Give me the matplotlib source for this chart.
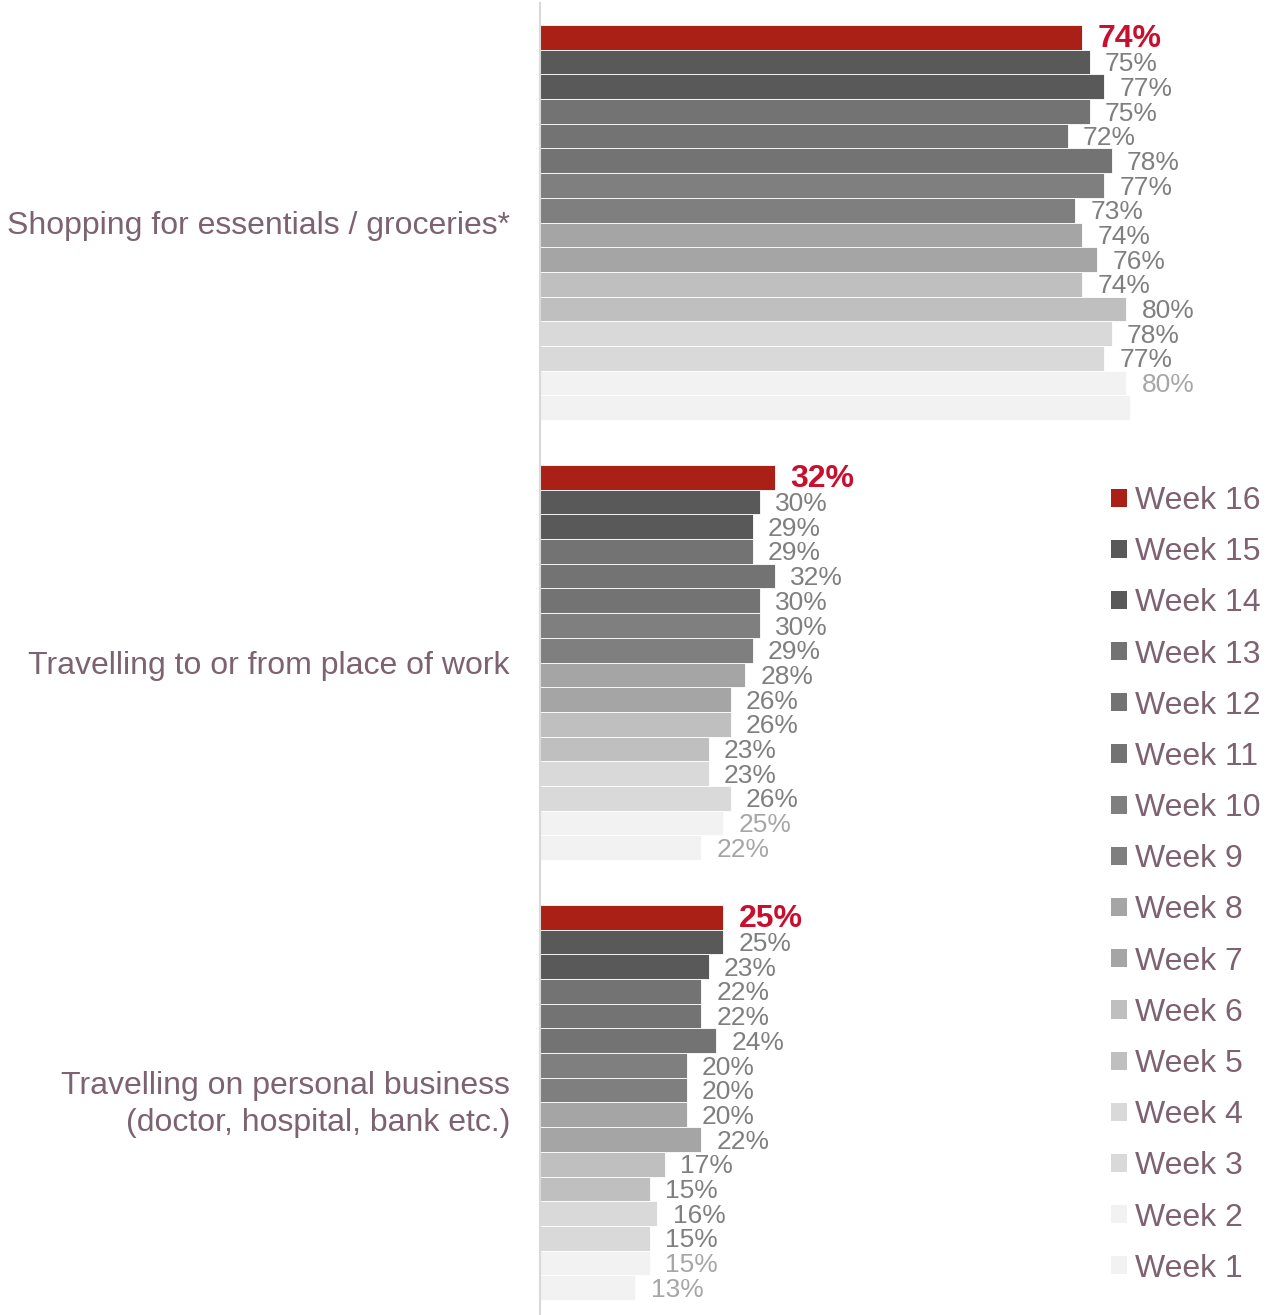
import matplotlib

matplotlib.use("Agg")
import matplotlib.pyplot as plt
from matplotlib.patches import Patch
import numpy as np

plt.rcParams["font.family"] = ["Liberation Sans", "DejaVu Sans"]

# donnees (semaine 16 en haut, semaine 1 en bas)
categories = [
    "Shopping for essentials / groceries*",
    "Travelling to or from place of work",
    "Travelling on personal business\n(doctor, hospital, bank etc.)",
]
weeks = [f"Week {w}" for w in range(16, 0, -1)]
shopping = [74, 75, 77, 75, 72, 78, 77, 73, 74, 76, 74, 80, 78, 77, 80, 80.5]
work = [32, 30, 29, 29, 32, 30, 30, 29, 28, 26, 26, 23, 23, 26, 25, 22]
personal = [25, 25, 23, 22, 22, 24, 20, 20, 20, 22, 17, 15, 16, 15, 15, 13]
# pas d'etiquette sur la barre Week 1 des courses dans l'original
unlabeled = [(0, "Week 1")]

week_colors = ["#AB2016", "#595959", "#595959", "#737373", "#737373", "#737373",
               "#7F7F7F", "#7F7F7F", "#A5A5A5", "#A5A5A5", "#BFBFBF", "#BFBFBF",
               "#D9D9D9", "#D9D9D9", "#F2F2F2", "#F2F2F2"]
text_col = "#7D6271"


def main():
    series = [shopping, work, personal]
    n = len(weeks)
    span = 0.898
    bh = span / n

    fig = plt.figure(figsize=(12.75, 13.15), dpi=100)
    ax = fig.add_axes([540 / 1275, 0, 733 / 1275, 1312 / 1315])

    for c, vals in enumerate(series):
        for i, v in enumerate(vals):
            y = c - span / 2 + bh * (i + 0.5)
            ax.barh(y, v, height=bh, color=week_colors[i],
                    edgecolor="white", linewidth=0.6)
            if (c, weeks[i]) in unlabeled:
                continue
            if i == 0:
                kw = dict(color="#C8102E", fontsize=23, fontweight="bold")
            elif i >= n - 2:
                kw = dict(color="#A6A6A6", fontsize=19)
            else:
                kw = dict(color="#7F7F7F", fontsize=19)
            ax.annotate(f"{v:.0f}%", (v, y), xytext=(11, -1.5),
                        textcoords="offset points", va="center", ha="left",
                        **kw)

    # libelles des categories (a gauche de l'axe)
    for c, name in enumerate(categories):
        dy = 3.5 if "\n" in name else 0
        ax.annotate(name, (0, c), xycoords=("axes fraction", "data"),
                    xytext=(-21.6, dy), textcoords="offset points",
                    ha="right", va="center_baseline", fontsize=23,
                    color=text_col, linespacing=1.3, annotation_clip=False)

    ax.set_xlim(0, 100)
    ax.set_ylim(2.483, -0.499)
    ax.set_yticks([])
    ax.set_xticks([])
    for s in ["top", "right", "bottom"]:
        ax.spines[s].set_visible(False)
    ax.spines["left"].set_color("#D9D9D9")
    ax.spines["left"].set_linewidth(1.5)

    handles = [Patch(facecolor=col, edgecolor="none") for col in week_colors]
    fig.legend(handles, weeks, loc="upper left",
               bbox_to_anchor=(1111 / 1275, 1 - 486 / 1315),
               frameon=False, fontsize=23, labelcolor=text_col,
               handlelength=0.5, handleheight=0.5, handletextpad=0.25,
               labelspacing=0.663, borderpad=0, borderaxespad=0)

    fig.savefig("out.png", dpi=100)


if __name__ == "__main__":
    main()
